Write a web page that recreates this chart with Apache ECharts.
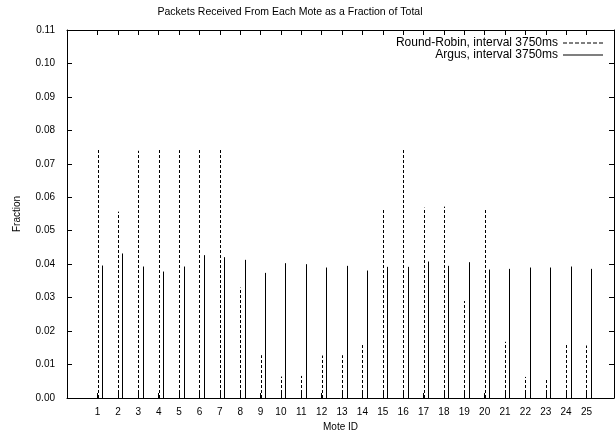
<!DOCTYPE html>
<html>
<head>
<meta charset="utf-8">
<style>
html,body{margin:0;padding:0;background:#fff;}
#chart{width:616px;height:437px;}
</style>
<script src="https://cdn.jsdelivr.net/npm/echarts@6/dist/echarts.min.js"></script>
</head>
<body>
<div id="chart"></div>
<script>
const moteIds = [1,2,3,4,5,6,7,8,9,10,11,12,13,14,15,16,17,18,19,20,21,22,23,24,25];
const roundRobin = [0.0742,0.0557,0.0739,0.0742,0.0741,0.0742,0.0742,0.0330,0.0128,0.0064,0.0066,0.0127,0.0128,0.0164,0.0564,0.0743,0.0569,0.0572,0.0290,0.0564,0.0168,0.0063,0.0054,0.0161,0.0157];
const argus = [0.0396,0.0432,0.0393,0.0378,0.0393,0.0427,0.0421,0.0413,0.0374,0.0403,0.0400,0.0390,0.0395,0.0381,0.0392,0.0392,0.0408,0.0395,0.0406,0.0384,0.0386,0.0390,0.0390,0.0393,0.0386];
const yTicks = [0,0.01,0.02,0.03,0.04,0.05,0.06,0.07,0.08,0.09,0.10,0.11];
const seriesNames = ['Round-Robin, interval 3750ms','Argus, interval 3750ms'];

const FONT = 'Liberation Sans, Arial, sans-serif';
const chart = echarts.init(document.getElementById('chart'), null, {renderer:'canvas'});

function impulse(offset, dash){
  return function(params, api){
    const x = api.value(0) + offset, y = api.value(1);
    const p0 = api.coord([x, 0]);
    const p1 = api.coord([x, y]);
    const px = Math.round(p0[0]) + 0.5;
    return {
      type:'line',
      shape:{x1:px, y1:p0[1], x2:px, y2:p1[1]},
      style:{stroke:'#000', lineWidth:1, lineDash: dash}
    };
  };
}

const axisLineStyle = {show:true, onZero:false, lineStyle:{color:'#000', width:1}};
const xCommon = {type:'value', min:-0.5, max:26.35, splitLine:{show:false}, axisLine:axisLineStyle};
const yCommon = {type:'value', min:yTicks[0], max:yTicks[yTicks.length-1], interval:0.01, splitLine:{show:false}, axisLine:axisLineStyle};

const dashIcon = 'path://M0 0H4V1H0Z M6 0H10V1H6Z M12 0H16V1H12Z M18 0H22V1H18Z M24 0H28V1H24Z M30 0H34V1H30Z M36 0H40V1H36Z';
const solidIcon = 'path://M0 0H40V1H0Z';

chart.setOption({
  animation:false,
  backgroundColor:'#fff',
  title:{
    text:'Packets Received From Each Mote as a Fraction of Total',
    left:290, top:7, textAlign:'center', padding:0,
    textStyle:{fontSize:10.5, fontWeight:'normal', color:'#000', fontFamily:FONT}
  },
  legend:{
    orient:'vertical', right:13, top:37, padding:0, align:'right',
    itemWidth:40, itemHeight:1, itemGap:0,
    textStyle:{fontSize:12, color:'#000', fontFamily:FONT, lineHeight:12},
    data:[{name:seriesNames[0], icon:dashIcon},{name:seriesNames[1], icon:solidIcon}],
    selectedMode:false
  },
  grid:{left:67, right:2, top:30, bottom:39},
  xAxis:[
    Object.assign({}, xCommon, {
      position:'bottom',
      name:'Mote ID', nameLocation:'middle', nameGap:24,
      nameTextStyle:{fontSize:10, color:'#000', fontFamily:FONT},
      axisTick:{show:true, inside:true, length:5, customValues:moteIds, lineStyle:{color:'#000'}},
      axisLabel:{show:true, customValues:moteIds, margin:9, fontSize:10, color:'#000', fontFamily:FONT}
    }),
    Object.assign({}, xCommon, {
      position:'top',
      axisTick:{show:true, inside:true, length:5, customValues:moteIds, lineStyle:{color:'#000'}},
      axisLabel:{show:false}
    })
  ],
  yAxis:[
    Object.assign({}, yCommon, {
      position:'left',
      name:'Fraction', nameLocation:'middle', nameGap:45, nameRotate:90,
      nameTextStyle:{fontSize:10, color:'#000', fontFamily:FONT},
      axisTick:{show:true, inside:true, length:5, lineStyle:{color:'#000'}},
      axisLabel:{show:true, margin:12, fontSize:10, color:'#000', fontFamily:FONT,
        formatter:function(v){return v.toFixed(2);}}
    }),
    Object.assign({}, yCommon, {
      position:'right',
      axisTick:{show:true, inside:true, length:5, lineStyle:{color:'#000'}},
      axisLabel:{show:false}
    })
  ],
  series:[
    {
      name:seriesNames[0], type:'custom', xAxisIndex:0, yAxisIndex:0,
      renderItem:impulse(0, [3,2]),
      encode:{x:0, y:1},
      itemStyle:{color:'#000'},
      data:moteIds.map((m,i)=>[m, roundRobin[i]])
    },
    {
      name:seriesNames[1], type:'custom', xAxisIndex:0, yAxisIndex:0,
      renderItem:impulse(0.22, null),
      encode:{x:0, y:1},
      itemStyle:{color:'#000'},
      data:moteIds.map((m,i)=>[m, argus[i]])
    }
  ]
});
</script>
</body>
</html>
